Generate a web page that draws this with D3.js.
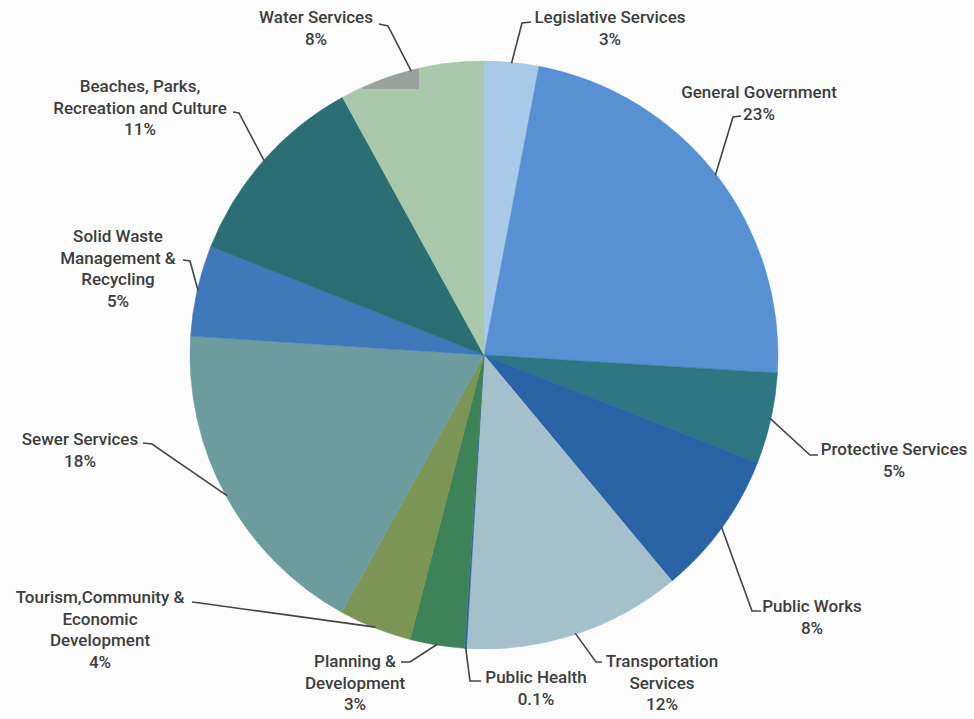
<!DOCTYPE html>
<html>
	<head>
		<script src="https://d3js.org/d3.v7.min.js"></script>
		<title>Expenditure by Function</title>
		<style>
			body { margin: 0; background: #fcfcfc; }
			text { font-family: Roboto, "Noto Sans", sans-serif; font-size: 17px; font-weight: 500; fill: #3d3d3d; }
		</style>
	</head>
	<body>
		<svg width="974" height="719"></svg>
		<script>
			// data, clockwise from 12 o'clock
			const categories = ["Legislative Services", "General Government", "Protective Services", "Public Works",
				"Transportation Services", "Public Health", "Planning & Development",
				"Tourism,Community & Economic Development", "Sewer Services",
				"Solid Waste Management & Recycling", "Beaches, Parks, Recreation and Culture", "Water Services"];
			const shares = [3, 23, 5, 8, 12, 0.1, 3, 4, 18, 5, 11, 8];
			const shareLabels = ["3%", "23%", "5%", "8%", "12%", "0.1%", "3%", "4%", "18%", "5%", "11%", "8%"];

			const colors = ["#a8c9e7", "#5790d3", "#2d7682", "#2a64a6", "#a4c1cb", "#2f5fae",
				"#3e8358", "#7b9557", "#6d9c9f", "#3f78bb", "#2b6f75", "#a8c8a9"];

			// how each label is broken into lines, and where it sits
			const labelLines = [
				["Legislative Services"], ["General Government"], ["Protective Services"], ["Public Works"],
				["Transportation", "Services"], ["Public Health"], ["Planning &", "Development"],
				["Tourism,Community &", "Economic", "Development"], ["Sewer Services"],
				["Solid Waste", "Management &", "Recycling"], ["Beaches, Parks,", "Recreation and Culture"], ["Water Services"]
			];
			// [text centre x, first baseline y, leader start x, y, elbow x, y]
			const labelPos = [
				[610, 23, 531, 22, 522, 23],
				[759, 98, 741, 116, 733, 117],
				[894, 455, 818, 455, 810, 455],
				[812, 612, 761, 611, 752, 611],
				[662, 667, 602, 662, 596, 662],
				[536, 683, 481, 681, 470, 681],
				[355, 667, 401, 662, 410, 662],
				[100, 603, 192, 602, 200, 603],
				[80, 445, 143, 443, 152, 444],
				[118, 242, 183, 260, 190, 261],
				[140, 92, 233, 112, 239, 113],
				[316, 23, 379, 24, 388, 26]
			];
			const lineGap = 21.5;

			const svg = d3.select("svg"), width = +svg.attr("width"), height = +svg.attr("height");
			const cx = 484, cy = 355, radius = 294;

			const pie = d3.pie().sort(null).value(d => d);
			const arcs = pie(shares);
			const arc = d3.arc().innerRadius(0).outerRadius(radius);

			const g = svg.append("g").attr("transform", `translate(${cx},${cy})`);

			g.selectAll("path.slice")
				.data(arcs)
				.enter().append("path")
				.attr("class", "slice")
				.attr("d", arc)
				.attr("fill", (d, i) => colors[i])
				.attr("stroke", (d, i) => colors[i])
				.attr("stroke-width", 0.5);

			// grey scan patch inside the water slice
			svg.append("clipPath").attr("id", "pieclip")
				.append("circle").attr("cx", cx).attr("cy", cy).attr("r", radius);
			svg.append("rect")
				.attr("x", 362).attr("y", 60).attr("width", 57).attr("height", 29)
				.attr("fill", "#98a19c")
				.attr("clip-path", "url(#pieclip)");

			// leaders go to the middle of each slice's rim
			const rim = d3.arc().innerRadius(radius - 1).outerRadius(radius - 1);
			const line = d3.line();

			svg.append("g").attr("class", "leaders")
				.selectAll("path")
				.data(arcs)
				.enter().append("path")
				.attr("d", (d, i) => {
					const p = labelPos[i];
					const c = rim.centroid(d);
					return line([[p[2], p[3]], [p[4], p[5]], [c[0] + cx, c[1] + cy]]);
				})
				.attr("fill", "none")
				.attr("stroke", "#444")
				.attr("stroke-width", 1.6);

			const labels = svg.append("g").attr("class", "labels")
				.selectAll("text")
				.data(arcs)
				.enter().append("text")
				.attr("text-anchor", "middle")
				.attr("x", (d, i) => labelPos[i][0])
				.attr("y", (d, i) => labelPos[i][1]);

			labels.each(function(d, i) {
				const t = d3.select(this);
				const rows = labelLines[i].concat([shareLabels[i]]);
				rows.forEach((r, k) => {
					t.append("tspan")
						.attr("x", labelPos[i][0])
						.attr("dy", k === 0 ? 0 : lineGap)
						.text(r);
				});
			});
		</script>
	</body>
</html>
